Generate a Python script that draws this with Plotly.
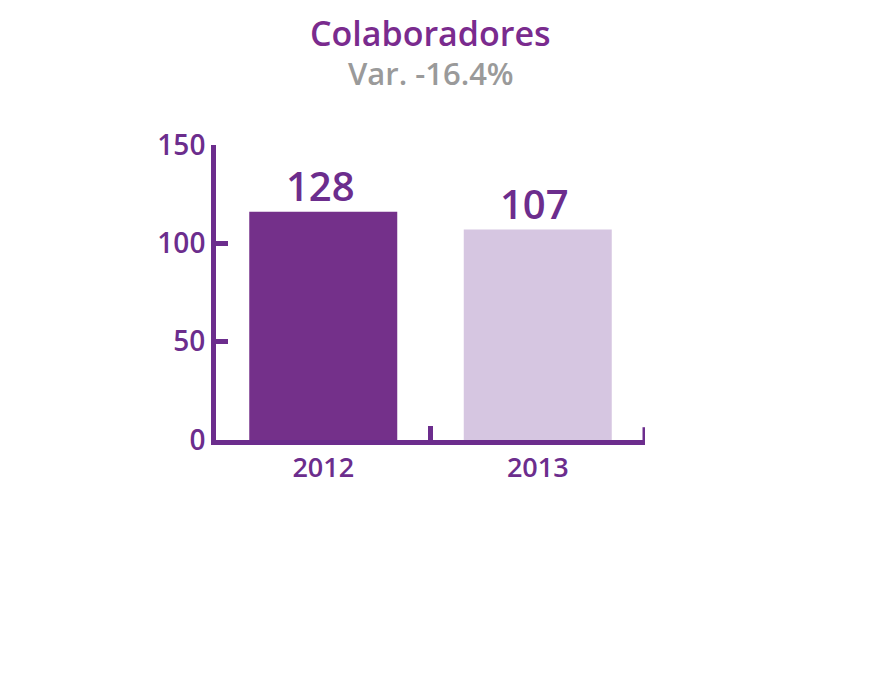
import plotly.graph_objects as go

categories = ["2012", "2013"]
values = [116, 107]
value_labels = ["128", "107"]
bar_colors = ["#74308a", "#d6c6e1"]
y_ticks = [0, 50, 100, 150]
title = "Colaboradores"
subtitle = "Var. -16.4%"

purple = "#6c2d8d"
font_family = "Open Sans"

W, H = 894, 678
L, R, T, B = 208, 257, 137, 246
BODY = 8  # default page margin of the html body

fig = go.Figure(go.Bar(
    x=categories, y=values,
    marker=dict(color=bar_colors, line=dict(width=0)),
    cliponaxis=False, width=0.69,
))


def paper_y(px):
    # screenshot pixel row -> paper coordinate
    bottom = BODY + H - B
    return (bottom - px) / (H - T - B)


annotations = [
    dict(text=title, x=0.5, xref="paper", y=paper_y(33), yref="paper", showarrow=False,
         font=dict(size=34, color="#7a2b8e", weight=600, family=font_family),
         yanchor="middle"),
    dict(text=subtitle, x=0.5, xref="paper", y=paper_y(73), yref="paper", showarrow=False,
         font=dict(size=31, color="#9a9a9a", weight=600, family=font_family),
         yanchor="middle"),
]
for i, (val, lab) in enumerate(zip(values, value_labels)):
    annotations.append(dict(
        text=lab, x=i, y=val, xref="x", yref="y", showarrow=False,
        yanchor="bottom", yshift=-3, xshift=-3,
        font=dict(size=40, color=purple, weight=600, family=font_family),
    ))

fig.update_layout(
    width=W, height=H,
    margin=dict(l=L, r=R, t=T, b=B),
    plot_bgcolor="white", paper_bgcolor="white",
    showlegend=False,
    font=dict(family=font_family, color=purple),
    annotations=annotations,
    shapes=[
        dict(type="line", xref="x", yref="y", x0=1.5, x1=1.5, y0=0, y1=6.5,
             line=dict(color=purple, width=5)),
    ],
)

fig.update_xaxes(
    type="category",
    range=[-0.5, 1.5], showline=True, linecolor=purple, linewidth=5,
    ticks="inside", tickson="boundaries", ticklen=14, tickwidth=5, tickcolor=purple,
    tickfont=dict(size=27, color=purple, weight=600), showgrid=False, zeroline=False,
)
fig.update_yaxes(
    range=[0, 150], tickvals=y_ticks, showline=True, linecolor=purple, linewidth=5,
    ticks="inside", ticklen=12, tickwidth=5, tickcolor=purple,
    tickfont=dict(size=28, color=purple, weight=600), showgrid=False, zeroline=False,
)

fig.write_html("out.html")
